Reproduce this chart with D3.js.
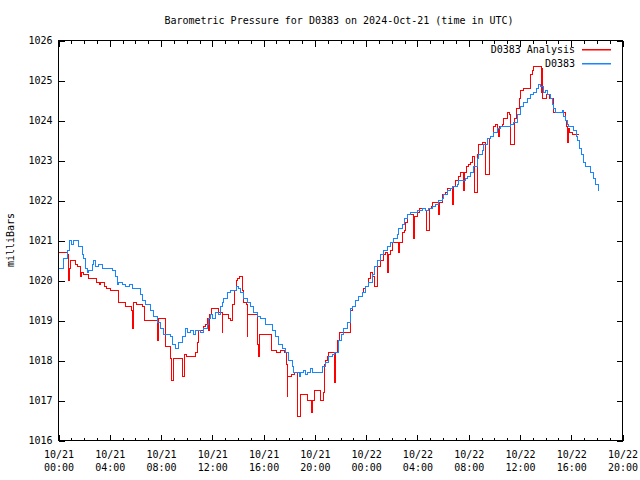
<!DOCTYPE html>
<html><head><meta charset="utf-8">
<script src="https://cdn.jsdelivr.net/npm/d3@7"></script>
<style>
body{margin:0;background:#fff}
svg{display:block}
text{font-family:"DejaVu Sans Mono","Liberation Mono",monospace;font-size:10px;fill:#000}
</style>
</head><body>
<svg id="c" width="640" height="480"></svg>
<script>
const titleText = "Barometric Pressure for D0383 on 2024-Oct-21 (time in UTC)";
const yLabel = "milliBars";
const seriesNames = ["D0383 Analysis", "D0383"];
const seriesColors = ["#ff0000", "#1786ff"];
const yTicks = [1016,1017,1018,1019,1020,1021,1022,1023,1024,1025,1026];
const xTickHours = [0,4,8,12,16,20,24,28,32,36,40,44];
const xMinorHours = d3.range(0,45).filter(h => h % 4 !== 0);

// [hours since 2024-10-21 00:00 UTC, mbar]
const analysis = [[0.00,1020.70],[0.70,1020.65],[0.78,1020.00],[0.85,1020.30],[0.92,1020.50],[1.20,1020.50],[1.30,1020.40],[1.45,1020.35],[1.70,1020.20],[1.75,1020.10],[1.80,1020.20],[1.97,1020.15],[2.36,1020.05],[2.75,1020.05],[2.95,1019.95],[3.20,1019.90],[3.30,1019.95],[3.60,1019.85],[3.75,1019.80],[4.06,1019.75],[4.70,1019.45],[5.23,1019.35],[5.70,1019.25],[5.78,1018.80],[5.85,1019.45],[6.09,1019.40],[6.58,1019.35],[6.70,1019.00],[7.30,1019.00],[7.70,1018.95],[7.75,1018.50],[7.82,1019.05],[8.32,1018.35],[8.75,1018.05],[8.85,1017.50],[8.95,1018.05],[9.65,1017.60],[9.80,1018.15],[10.00,1018.10],[10.70,1018.20],[10.82,1018.45],[10.90,1018.75],[11.34,1018.85],[11.50,1018.90],[11.60,1019.05],[11.70,1018.75],[11.78,1019.15],[11.90,1019.30],[12.50,1019.20],[12.77,1018.70],[12.83,1019.15],[13.30,1019.05],[13.40,1019.00],[13.60,1019.40],[13.70,1019.75],[13.85,1020.00],[14.00,1020.05],[14.15,1020.10],[14.35,1019.75],[14.45,1019.45],[14.65,1019.40],[14.72,1018.60],[14.78,1019.15],[15.55,1018.40],[15.62,1018.10],[15.70,1018.65],[16.60,1018.25],[17.00,1018.20],[17.30,1018.25],[17.60,1018.20],[17.75,1018.10],[17.80,1017.90],[17.85,1017.10],[17.90,1017.60],[18.20,1017.65],[18.40,1017.70],[18.68,1016.60],[18.90,1017.15],[19.45,1017.00],[19.75,1016.70],[19.80,1017.00],[19.95,1017.25],[20.45,1017.00],[20.70,1017.20],[20.75,1017.90],[20.85,1018.00],[21.00,1018.10],[21.10,1018.20],[21.55,1017.45],[21.62,1018.20],[21.75,1018.50],[21.95,1018.70],[22.75,1019.25],[22.91,1019.35],[23.17,1019.50],[23.43,1019.60],[23.69,1019.70],[23.82,1019.80],[23.95,1019.85],[24.21,1020.05],[24.34,1020.20],[24.47,1020.10],[24.68,1019.85],[24.86,1020.35],[25.12,1020.50],[25.38,1020.65],[25.50,1020.70],[25.64,1020.20],[25.78,1020.65],[25.90,1020.75],[26.03,1020.95],[26.55,1020.70],[26.62,1020.95],[26.81,1021.20],[27.00,1021.25],[27.10,1021.45],[27.20,1021.65],[27.72,1021.05],[27.80,1021.60],[27.98,1021.70],[28.20,1021.80],[28.63,1021.75],[28.70,1021.25],[28.92,1021.80],[29.10,1021.85],[29.15,1021.95],[29.67,1021.65],[29.75,1021.95],[29.93,1022.15],[30.20,1022.20],[30.32,1022.30],[30.71,1021.90],[30.78,1022.35],[30.97,1022.50],[31.23,1022.60],[31.36,1022.70],[31.62,1022.25],[31.70,1022.70],[31.80,1022.85],[32.01,1022.90],[32.14,1022.95],[32.30,1023.10],[32.48,1022.20],[32.67,1023.15],[32.79,1023.40],[33.06,1023.45],[33.30,1023.20],[33.35,1022.65],[33.62,1023.55],[33.70,1023.60],[33.90,1023.75],[33.96,1023.85],[34.10,1023.90],[34.23,1023.80],[34.35,1023.60],[34.42,1023.85],[34.60,1023.90],[34.75,1024.05],[35.01,1024.20],[35.15,1024.15],[35.30,1023.40],[35.58,1024.05],[35.70,1024.30],[35.95,1024.55],[36.04,1024.75],[36.30,1024.80],[36.80,1025.15],[36.95,1025.25],[37.08,1025.35],[37.65,1024.70],[37.70,1025.30],[37.78,1024.55],[38.05,1024.65],[38.30,1024.55],[38.60,1024.40],[38.65,1024.20],[39.55,1024.00],[39.65,1023.85],[39.70,1023.45],[39.75,1023.80],[39.85,1023.70],[40.10,1023.65],[40.60,1023.65]];

const observed = [[0.00,1020.30],[0.08,1020.30],[0.41,1020.55],[0.68,1020.75],[0.88,1021.00],[1.01,1020.90],[1.17,1021.00],[1.46,1021.00],[1.58,1020.85],[1.85,1020.65],[1.97,1020.55],[2.11,1020.30],[2.24,1020.20],[2.36,1020.25],[2.63,1020.40],[2.75,1020.50],[2.89,1020.35],[3.14,1020.40],[3.41,1020.30],[4.06,1020.30],[4.19,1020.25],[4.45,1020.10],[4.58,1019.90],[4.70,1019.95],[4.97,1019.90],[5.23,1019.85],[5.50,1019.90],[5.75,1019.80],[6.09,1019.80],[6.40,1019.65],[6.58,1019.50],[6.79,1019.40],[7.00,1019.40],[7.18,1019.25],[7.43,1019.10],[7.70,1018.95],[7.96,1018.80],[8.21,1018.65],[8.74,1018.60],[8.87,1018.40],[9.13,1018.30],[9.39,1018.45],[9.65,1018.60],[9.91,1018.80],[10.10,1018.70],[10.30,1018.75],[10.56,1018.65],[10.69,1018.75],[11.08,1018.70],[11.34,1018.80],[11.60,1018.90],[11.73,1019.05],[11.86,1019.15],[12.00,1019.05],[12.25,1019.20],[12.45,1019.15],[12.64,1019.35],[12.77,1019.45],[12.90,1019.55],[13.16,1019.70],[13.42,1019.75],[13.65,1019.75],[13.89,1019.85],[14.05,1019.80],[14.20,1019.70],[14.41,1019.55],[14.72,1019.45],[14.98,1019.35],[15.24,1019.20],[15.50,1019.10],[15.76,1019.05],[16.15,1018.90],[16.54,1018.90],[16.67,1018.75],[16.93,1018.60],[17.19,1018.40],[17.45,1018.30],[17.71,1018.20],[17.97,1018.00],[18.23,1017.85],[18.36,1017.70],[18.62,1017.70],[18.80,1017.60],[18.88,1017.70],[19.14,1017.75],[19.30,1017.65],[19.40,1017.70],[19.66,1017.80],[19.80,1017.70],[20.05,1017.70],[20.44,1017.70],[20.57,1017.85],[20.83,1017.95],[21.09,1018.10],[21.35,1018.15],[21.53,1018.20],[21.87,1018.50],[22.08,1018.65],[22.26,1018.80],[22.52,1018.95],[22.78,1019.30],[22.91,1019.35],[23.17,1019.50],[23.43,1019.60],[23.69,1019.70],[23.95,1019.85],[24.21,1019.95],[24.47,1020.15],[24.68,1020.35],[24.86,1020.50],[25.12,1020.65],[25.38,1020.75],[25.64,1020.85],[25.90,1020.95],[26.16,1021.05],[26.42,1021.15],[26.55,1021.30],[26.81,1021.40],[27.02,1021.55],[27.20,1021.65],[27.46,1021.70],[27.98,1021.75],[28.37,1021.80],[28.63,1021.75],[28.89,1021.80],[29.15,1021.85],[29.41,1021.90],[29.67,1022.00],[29.93,1022.05],[30.06,1022.15],[30.32,1022.25],[30.58,1022.30],[30.71,1022.35],[30.97,1022.35],[31.10,1022.40],[31.23,1022.50],[31.50,1022.50],[31.75,1022.55],[31.88,1022.60],[32.14,1022.70],[32.40,1022.85],[32.67,1023.05],[32.79,1023.15],[33.06,1023.25],[33.18,1023.40],[33.45,1023.55],[33.70,1023.60],[33.96,1023.70],[34.23,1023.80],[34.48,1023.85],[35.01,1023.85],[35.26,1023.90],[35.52,1023.95],[35.79,1024.15],[36.04,1024.35],[36.30,1024.45],[36.56,1024.55],[36.82,1024.65],[37.08,1024.70],[37.29,1024.80],[37.42,1024.90],[37.60,1024.85],[37.82,1024.70],[38.00,1024.75],[38.17,1024.65],[38.38,1024.55],[38.52,1024.40],[38.64,1024.30],[38.77,1024.20],[39.16,1024.20],[39.30,1024.25],[39.42,1024.10],[39.55,1024.00],[39.69,1023.90],[39.81,1023.85],[40.00,1023.85],[40.20,1023.75],[40.41,1023.60],[40.51,1023.50],[40.67,1023.30],[40.78,1023.15],[40.93,1022.95],[41.11,1022.85],[41.37,1022.85],[41.51,1022.70],[41.71,1022.55],[41.89,1022.40],[42.15,1022.25]];

const L = 58, R = 622, T = 40, B = 440;
const t0 = Date.UTC(2024, 9, 21, 0, 0);
const toDate = h => new Date(t0 + h * 3600000);

const x = d3.scaleUtc().domain([toDate(0), toDate(44)]).range([L, R]);
const y = d3.scaleLinear().domain([1016, 1026]).range([B, T]);

const svg = d3.select("#c");
const g = svg.append("g").attr("transform", "translate(0.5,0.5)");

// plot lines
const line = d3.line().x(d => x(toDate(d[0]))).y(d => y(d[1])).curve(d3.curveStepAfter);
[analysis, observed].forEach((s, i) => {
  g.append("path").datum(s)
    .attr("d", line)
    .style("fill", "none")
    .style("stroke", seriesColors[i])
    .style("stroke-width", "1px")
    .attr("shape-rendering", "crispEdges");
});

// axes
const majorX = xTickHours.map(toDate);
const minorX = xMinorHours.map(toDate);
const fmtDay = d3.utcFormat("%m/%d"), fmtTime = d3.utcFormat("%H:%M");

function styleAxis(sel) {
  sel.select(".domain").remove();
  sel.attr("font-family", null).attr("font-size", null);
  sel.selectAll(".tick line").attr("stroke", "#000").attr("shape-rendering", "crispEdges");
  sel.selectAll(".tick text").attr("fill", "#000");
}

const bottom = g.append("g").attr("transform", `translate(0,${B})`)
  .call(d3.axisBottom(x).tickValues(majorX).tickSize(-6).tickSizeOuter(0).tickFormat(fmtDay))
  .call(styleAxis);
bottom.selectAll(".tick text").each(function(d) {
  const t = d3.select(this);
  t.text(null).attr("y", null).attr("dy", null);
  t.append("tspan").attr("x", 0).attr("y", 17.5).text(fmtDay(d));
  t.append("tspan").attr("x", 0).attr("y", 30.5).text(fmtTime(d));
});
g.append("g").attr("transform", `translate(0,${B})`)
  .call(d3.axisBottom(x).tickValues(minorX).tickSize(-3).tickSizeOuter(0).tickFormat(""))
  .call(styleAxis);
g.append("g").attr("transform", `translate(0,${T})`)
  .call(d3.axisTop(x).tickValues(majorX).tickSize(-6).tickSizeOuter(0).tickFormat(""))
  .call(styleAxis);
g.append("g").attr("transform", `translate(0,${T})`)
  .call(d3.axisTop(x).tickValues(minorX).tickSize(-3).tickSizeOuter(0).tickFormat(""))
  .call(styleAxis);

g.append("g").attr("transform", `translate(${L},0)`)
  .call(d3.axisLeft(y).tickValues(yTicks).tickSize(-6).tickSizeOuter(0).tickPadding(6).tickFormat(d3.format("d")))
  .call(styleAxis);
g.append("g").attr("transform", `translate(${R},0)`)
  .call(d3.axisRight(y).tickValues(yTicks).tickSize(-6).tickSizeOuter(0).tickFormat(""))
  .call(styleAxis);

// frame
g.append("rect").attr("x", L).attr("y", T).attr("width", R - L).attr("height", B - T)
  .style("fill", "none").style("stroke", "#000").attr("shape-rendering", "crispEdges");

// title & labels
svg.append("text").attr("x", 339).attr("y", 24).attr("text-anchor", "middle").text(titleText);
svg.append("text").attr("transform", "translate(13.5,240) rotate(-90)").attr("text-anchor", "middle").text(yLabel);

// legend (swatches as filled 1px-high rects)
seriesNames.forEach((n, i) => {
  const ly = 49 + i * 14;
  svg.append("text").attr("x", 575).attr("y", ly + 3.5).attr("text-anchor", "end").text(n);
  svg.append("rect")
    .attr("x", 582).attr("y", ly).attr("width", 29).attr("height", 1.5)
    .style("fill", seriesColors[i]).style("stroke", "none");
});
</script>
</body></html>
